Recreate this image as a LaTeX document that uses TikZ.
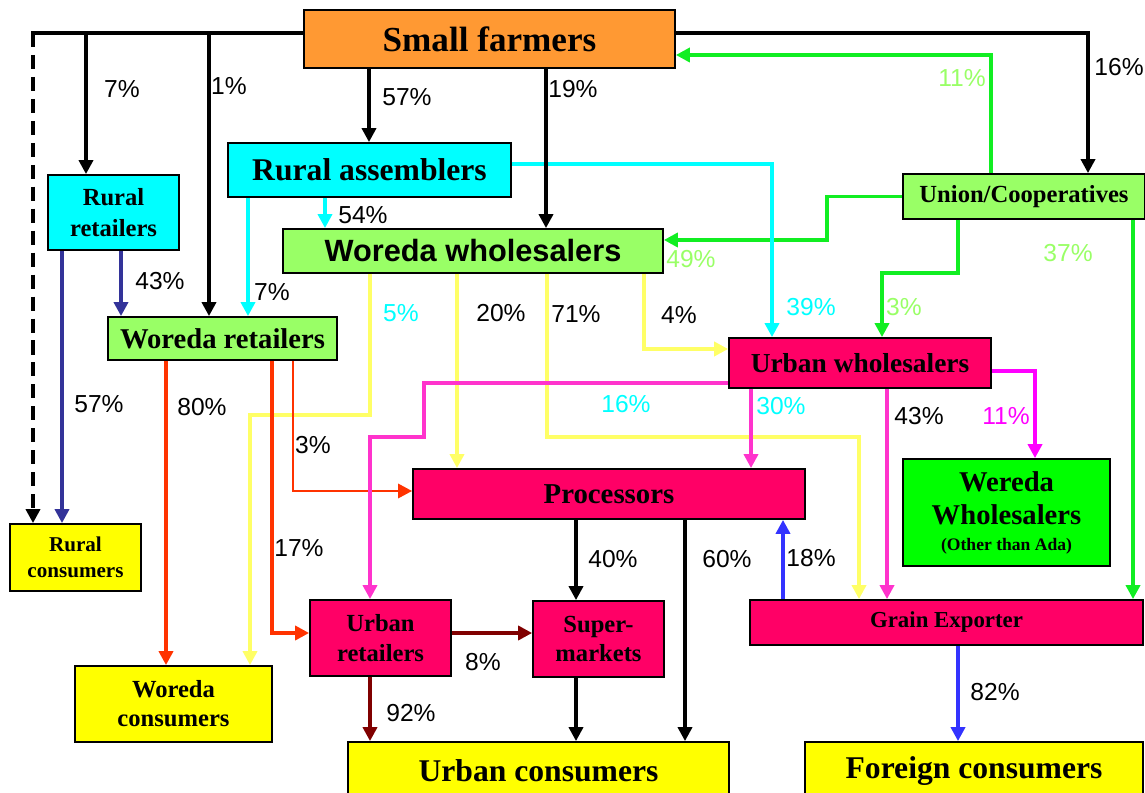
\documentclass[tikz,border=0pt]{standalone}
\usepackage{fontspec}
\setmainfont{Liberation Serif}
\setsansfont{Liberation Sans}
\usetikzlibrary{arrows.meta}

\definecolor{farmorange}{HTML}{FF9933}
\definecolor{boxcyan}{HTML}{00FFFF}
\definecolor{boxlime}{HTML}{99FF66}
\definecolor{boxrose}{HTML}{FF0066}
\definecolor{boxyellow}{HTML}{FFFF00}
\definecolor{boxgreen}{HTML}{00FF00}
\definecolor{lgreen}{HTML}{11EE22}
\definecolor{lyellow}{HTML}{FFFF66}
\definecolor{lorange}{HTML}{FF3300}
\definecolor{lpink}{HTML}{FF33CC}
\definecolor{lmagenta}{HTML}{FF00FF}
\definecolor{ldarkred}{HTML}{800000}
\definecolor{lnavy}{HTML}{333399}
\definecolor{lblue}{HTML}{3333FF}

\newcommand{\fsz}[2]{\fontsize{#1}{#2}\selectfont}

\tikzset{
  box/.style={draw=black, line width=1pt, inner sep=0pt, align=center},
  flow/.style={line width=2.2pt, -{Triangle[width=8pt,length=8pt]}},
  pct/.style={font=\sffamily\fsz{14}{16}, inner sep=0pt},
}

\begin{document}
\begin{tikzpicture}[x=0.02cm, y=-0.02cm]
  \useasboundingbox (0,0) rectangle (1145,793);
  \clip (0,0) rectangle (1145,793);

  % boxes
  \node[box, fill=farmorange, minimum width=7.42cm, minimum height=1.16cm, font=\bfseries\fsz{20}{24}] (sf) at (489.5,39) {Small farmers};
  \node[box, fill=boxcyan, minimum width=5.66cm, minimum height=1.08cm, font=\bfseries\fsz{18}{22}] (ra) at (369.5,170) {Rural assemblers};
  \node[box, fill=boxcyan, minimum width=2.62cm, minimum height=1.5cm, font=\bfseries\fsz{14}{17.5}] (rr) at (113.5,212.5) {Rural\\retailers};
  \node[box, fill=boxlime, minimum width=7.6cm, minimum height=0.88cm, font=\sffamily\bfseries\fsz{17.5}{20}] (ww) at (473,251) {Woreda wholesalers};
  \node[box, fill=boxlime, minimum width=4.84cm, minimum height=0.9cm, font=\bfseries\fsz{14}{17}] (uc) at (1024,196.5) {Union/Cooperatives};
  \node[box, fill=boxlime, minimum width=4.58cm, minimum height=0.86cm, font=\bfseries\fsz{16.3}{19}] (wr) at (222.5,338.5) {Woreda retailers};
  \node[box, fill=boxrose, minimum width=5.24cm, minimum height=1cm, font=\bfseries\fsz{15.6}{19}] (uw) at (860,363) {Urban wholesalers};
  \node[box, fill=boxgreen, minimum width=4.14cm, minimum height=2.14cm, font=\bfseries\fsz{16.3}{19.3}] (wwo) at (1006.5,512.5) {Wereda\\Wholesalers\\[-5pt]{\fsz{10}{12}(Other than Ada)}};
  \node[box, fill=boxrose, minimum width=7.84cm, minimum height=1cm, font=\bfseries\fsz{16.4}{19}] (pr) at (609,494) {Processors};
  \node[box, fill=boxyellow, minimum width=2.62cm, minimum height=1.34cm, font=\bfseries\fsz{12}{14.7}] (rc) at (75.5,557.5) {Rural\\consumers};
  \node[box, fill=boxrose, minimum width=7.86cm, minimum height=0.9cm, font=\bfseries\fsz{13}{16}] (ge) at (946.5,622.5) {Grain Exporter};
  \node[box, fill=boxrose, minimum width=2.82cm, minimum height=1.52cm, font=\bfseries\fsz{14}{17.5}] (urr) at (380.5,638) {Urban\\retailers};
  \node[box, fill=boxrose, minimum width=2.62cm, minimum height=1.52cm, font=\bfseries\fsz{14}{16.5}] (sm) at (598.5,639) {Super-\\markets};
  \node[box, fill=boxyellow, minimum width=3.94cm, minimum height=1.52cm, font=\bfseries\fsz{14}{16.5}] (wc) at (173.5,704) {Woreda\\consumers};
  \node[box, fill=boxyellow, minimum width=7.62cm, minimum height=1.16cm, font=\bfseries\fsz{18}{22}] (ucs) at (538.5,771) {Urban consumers};
  \node[box, fill=boxyellow, minimum width=6.76cm, minimum height=1.16cm, font=\bfseries\fsz{18}{22}] (fc) at (974,771) {Foreign consumers};

  \coordinate (tl) at (33,33);

  % union flows
  \draw[flow, lgreen] (uc.north -| 991,0) |- (sf.east |- 0,55);
  \draw[flow, lgreen] (uc.west) -| (827,240) -- (ww.east |- 0,240);
  \draw[flow, lgreen] (uc.south -| 958,0) |- (882,273) -- (uw.north -| 882,0);
  \draw[flow, lgreen] (uc.south -| 1133,0) -- (ge.north -| 1133,0);

  % assemblers and rural retailers
  \draw[flow, boxcyan] (ra.east |- 0,164) -| (uw.north -| 772,0);
  \draw[flow, boxcyan] (ra.south -| 325,0) -- (ww.north -| 325,0);
  \draw[flow, boxcyan] (ra.south -| 248,0) -- (wr.north -| 248,0);
  \draw[flow, lnavy] (rr.south -| 62,0) -- (rc.north -| 62,0);
  \draw[flow, lnavy] (rr.south -| 121,0) -- (wr.north -| 121,0);

  % farmers
  \draw[line width=2.2pt, line cap=rect] (sf.west |- tl) -- (tl);
  \draw[flow, dash pattern=on 8pt off 4.5pt] (tl) -- (rc.north -| tl);
  \draw[flow] (tl -| 86,0) -- (rr.north -| 86,0);
  \draw[flow] (tl -| 209,0) -- (wr.north -| 209,0);
  \draw[flow] (sf.south -| 369,0) -- (ra.north -| 369,0);
  \draw[flow] (sf.south -| 546,0) -- (ww.north -| 546,0);
  \draw[flow] (sf.east |- tl) -| (uc.north -| 1088,0);

  % woreda wholesalers
  \draw[flow, lyellow] (ww.south -| 370,0) |- (250,415) -- (wc.north -| 250,0);
  \draw[flow, lyellow] (ww.south -| 457,0) -- (pr.north -| 457,0);
  \draw[flow, lyellow] (ww.south -| 547,0) |- (859,437) -- (ge.north -| 859,0);
  \draw[flow, lyellow] (ww.south -| 644,0) |- (uw.west |- 0,349);

  % woreda retailers
  \draw[flow, lorange] (wr.south -| 166,0) -- (wc.north -| 166,0);
  \draw[flow, lorange] (wr.south -| 272,0) |- (urr.west |- 0,633);
  \draw[flow, lorange, line width=1.7pt] (wr.south -| 293,0) |- (pr.west |- 0,491);

  % urban wholesalers
  \draw[flow, lpink] (uw.west |- 0,383) -| (424,437) -| (urr.north -| 370,0);
  \draw[flow, lpink] (uw.south -| 751,0) -- (pr.north -| 751,0);
  \draw[flow, lpink] (uw.south -| 887,0) -- (ge.north -| 887,0);
  \draw[flow, lmagenta, line width=2.8pt] (uw.east |- 0,371) -| (wwo.north -| 1035,0);

  % downstream
  \draw[flow, ldarkred] (urr.east |- 0,633) -- (sm.west |- 0,633);
  \draw[flow, ldarkred] (urr.south -| 370,0) -- (ucs.north -| 370,0);
  \draw[flow] (pr.south -| 576,0) -- (sm.north -| 576,0);
  \draw[flow] (pr.south -| 685,0) -- (ucs.north -| 685,0);
  \draw[flow] (sm.south -| 576,0) -- (ucs.north -| 576,0);
  \draw[flow, lblue] (ge.north -| 783,0) -- (pr.south -| 783,0);
  \draw[flow, lblue] (ge.south -| 958,0) -- (fc.north -| 958,0);

  % shares
  \node[pct] (pSfRr) at (122,89) {7\%};
  \node[pct] (pSfWr) at (229,86) {1\%};
  \node[pct] (pSfRa) at (407,97) {57\%};
  \node[pct] (pSfWw) at (573,89) {19\%};
  \node[pct] (pSfUc) at (1119,67) {16\%};
  \node[pct, boxlime] (pUcSf) at (962,78) {11\%};
  \node[pct] (pRaWw) at (363,215) {54\%};
  \node[pct] (pRrWr) at (160,281) {43\%};
  \node[pct] (pRaWr) at (272,292) {7\%};
  \node[pct, boxlime] (pUcWw) at (691,259) {49\%};
  \node[pct, boxlime] (pUcGe) at (1068,253) {37\%};
  \node[pct, boxcyan] (pWwWc) at (401,313) {5\%};
  \node[pct] (pWwPr) at (501,313) {20\%};
  \node[pct] (pWwGe) at (576,314) {71\%};
  \node[pct] (pWwUw) at (679,315) {4\%};
  \node[pct, boxcyan] (pRaUw) at (811,307) {39\%};
  \node[pct, boxlime] (pUcUw) at (904,307) {3\%};
  \node[pct] (pRrRc) at (99,404) {57\%};
  \node[pct] (pWrWc) at (202,407) {80\%};
  \node[pct] (pWrPr) at (313,445) {3\%};
  \node[pct, boxcyan] (pUwUr) at (626,404) {16\%};
  \node[pct, boxcyan] (pUwPr) at (781,406) {30\%};
  \node[pct] (pUwGe) at (919,416) {43\%};
  \node[pct, lmagenta] (pUwWo) at (1006,416) {11\%};
  \node[pct] (pWrUr) at (299,548) {17\%};
  \node[pct] (pUrUc) at (411,713) {92\%};
  \node[pct] (pUrSm) at (483,662) {8\%};
  \node[pct] (pPrSm) at (613,559) {40\%};
  \node[pct] (pPrUc) at (727,559) {60\%};
  \node[pct] (pGePr) at (811,558) {18\%};
  \node[pct] (pGeFc) at (995,692) {82\%};
\end{tikzpicture}
\end{document}
